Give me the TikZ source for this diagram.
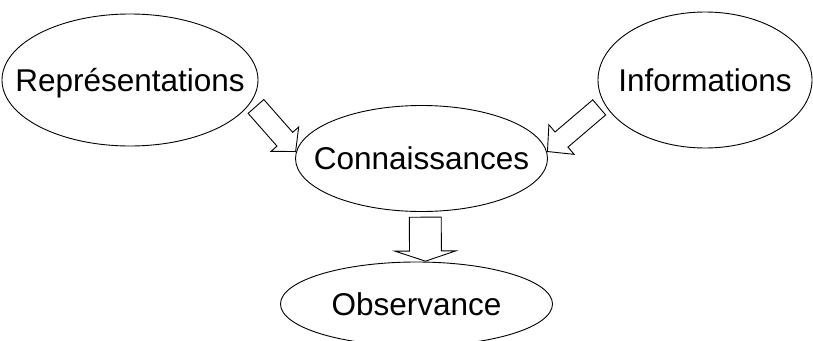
\documentclass[tikz,border=0pt]{standalone}
\usepackage{fontspec}
\setmainfont{Liberation Sans}
\usetikzlibrary{shapes.geometric,shapes.arrows}

\begin{document}
\begin{tikzpicture}[x=1pt,y=-1pt,
		bulle/.style={ellipse,draw,line width=.9pt,inner sep=0pt,
			text height=22.5pt,text depth=0pt,font=\fontsize{31.5}{36}\selectfont},
		fleche/.style={single arrow,draw,line width=.9pt,fill=white,inner sep=0pt,
			text depth=0pt,sloped,allow upside down,pos=1,anchor=tip}]
		\clip (0,0) rectangle (813,340);

		\node[bulle,minimum width=256pt,minimum height=132pt] (repr)
			at (130,80) {\makebox[0pt]{Représentations}};
		\node[bulle,minimum width=214pt,minimum height=136pt] (info)
			at (705,80) {\makebox[0pt]{Informations}};
		\node[bulle,minimum width=252pt,minimum height=106pt] (conn)
			at (421.5,158.5) {\makebox[0pt]{Connaissances}};
		\node[bulle,minimum width=272pt,minimum height=84pt] (obs)
			at (416.5,304) {\makebox[0pt]{Observance}};

		\path (repr.-10) -- (conn.177) node[fleche,minimum height=60pt,text height=20pt,
			single arrow head extend=8pt,single arrow tip angle=97] {};
		\path (info.193) -- (conn.3) node[fleche,minimum height=68pt,text height=19pt,
			single arrow head extend=9.5pt,single arrow tip angle=93] {};
		\path (conn.-86) -- (obs.78) node[fleche,minimum height=44pt,text height=31pt,
			single arrow head extend=14.5pt,single arrow tip angle=143] {};
	\end{tikzpicture}
\end{document}
